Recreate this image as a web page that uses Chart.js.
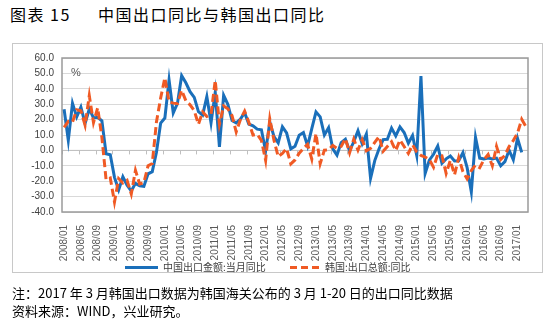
<!DOCTYPE html>
<html lang="zh">
<head>
<meta charset="UTF-8">
<title>中国出口同比与韩国出口同比</title>
<script src="https://cdn.jsdelivr.net/npm/chart.js@4"></script>
<style>
  html, body {
    margin: 0;
    padding: 0;
    width: 554px;
    height: 328px;
    background: #fff;
    overflow: hidden;
    font-family: "Noto Sans CJK SC", "Liberation Sans", sans-serif;
    color: #000;
  }
  .title {
    position: absolute;
    top: 3px;
    font-size: 16px;
    line-height: 22px;
    white-space: pre;
    letter-spacing: 1.5px;
  }
  .box {
    position: absolute;
    left: 12px;
    top: 43px;
    width: 529px;
    height: 228px;
    border: 1px solid #c8c8c8;
  }
  .chart-wrap {
    position: absolute;
    left: 0;
    top: 0;
    width: 529px;
    height: 228px;
  }
  .pct {
    position: absolute;
    left: 58px;
    top: 22px;
    font: 11px "Liberation Sans", sans-serif;
    color: #595959;
  }
  .legend {
    position: absolute;
    top: 216px;
    font-size: 10px;
    line-height: 14px;
    color: #404040;
    white-space: nowrap;
  }
  .swatch {
    position: absolute;
    top: 222px;
    height: 3px;
  }
  .note {
    position: absolute;
    left: 12px;
    font-size: 13px;
    line-height: 18px;
    white-space: pre;
  }
</style>
</head>
<body>
<div class="title" style="left:10px;">图表 15</div>
<div class="title" style="left:98px;">中国出口同比与韩国出口同比</div>

<div class="box">
  <div class="chart-wrap"><canvas id="chart"></canvas></div>
  <div class="pct">%</div>
  <div class="swatch" style="left:112px;width:33px;background:#1a6fba;"></div>
  <div class="legend" style="left:150px;">中国出口金额:当月同比</div>
  <div class="swatch" style="left:277px;width:29px;background:repeating-linear-gradient(to right,#f05a24 0 7px,transparent 7px 11px);"></div>
  <div class="legend" style="left:312px;">韩国:出口总额:同比</div>
</div>

<div class="note" style="top:284px;">注：2017 年 3 月韩国出口数据为韩国海关公布的 3 月 1-20 日的出口同比数据</div>
<div class="note" style="top:302px;">资料来源：WIND，兴业研究。</div>

<script>
// months 2008/01 .. 2017/03
const months = [];
for (let y = 2008; y <= 2017; y++) {
  for (let m = 1; m <= 12; m++) {
    if (y === 2017 && m > 3) break;
    months.push(y + '/' + String(m).padStart(2, '0'));
  }
}

// 中国出口金额:当月同比 (%), 2008/01 - 2017/02
const chinaExport = [
  26.7, 6.5, 30.6, 21.8, 28.1, 17.6, 26.9, 21.1, 21.5, 19.2, -2.2, -2.8,
  -17.5, -25.7, -17.1, -22.6, -26.4, -21.4, -23.0, -23.4, -15.2, -13.8, -1.2, 17.7,
  21.0, 45.7, 24.3, 30.5, 48.5, 43.9, 38.1, 34.4, 25.1, 22.9, 34.9, 17.9,
  37.7, 2.3, 35.8, 29.9, 19.4, 17.9, 20.4, 24.5, 17.1, 15.9, 13.8, 13.4,
  -0.5, 18.4, 8.9, 4.9, 15.3, 11.3, 1.0, 2.7, 9.9, 11.6, 2.9, 14.1,
  25.0, 21.8, 10.0, 14.7, 1.0, -3.1, 5.1, 7.2, -0.3, 5.6, 12.7, 4.3,
  10.6, -18.1, -6.6, 0.9, 7.0, 7.2, 14.5, 9.4, 15.3, 11.6, 4.7, 9.7,
  -3.3, 48.3, -15.0, -6.4, -2.5, 2.8, -8.3, -5.5, -3.7, -6.9, -6.8, -1.4,
  -11.2, -27.0, 8.5, -5.0, -5.5, -5.0, -5.5, -5.0, -10.0, -7.3, 0.1, -6.1,
  7.9, -1.3, null
];

// 韩国:出口总额:同比 (%), 2008/01 - 2017/03
const koreaExport = [
  15.0, 18.9, 18.4, 26.4, 25.8, 16.4, 35.6, 18.1, 27.6, 8.5, -19.0, -17.9,
  -33.5, -18.3, -21.2, -19.4, -28.3, -13.0, -21.8, -20.9, -10.0, -8.5, 18.5, 34.0,
  47.1, 31.5, 30.7, 30.4, 39.0, 32.3, 29.6, 25.8, 17.0, 25.0, 22.0, 23.3,
  45.5, 17.0, 28.8, 27.0, 22.6, 12.0, 20.0, 25.5, 18.3, 10.0, 10.4, 6.5,
  -6.5, 20.4, 6.5, -4.0, -2.0, 1.1, -8.8, -6.2, -1.8, 1.2, 3.9, -5.7,
  10.9, -8.6, 0.2, 0.4, 3.2, 1.4, 2.6, 7.7, -1.5, 7.3, 0.2, 7.0,
  -0.2, 1.4, 5.2, 9.0, -0.5, 2.6, 5.6, -0.1, 6.8, 2.5, -1.9, 3.6,
  -1.0, -3.3, -4.3, -6.0, -10.9, -2.7, -3.4, -14.9, -6.5, -15.8, -4.7, -13.8,
  -18.5, -13.1, -9.5, -11.2, -6.0, -2.7, -10.0, 2.6, -5.9, -3.2, 2.5, 6.4,
  11.2, 20.2, 15.5
];

const yTicks = { min: -40, max: 60, step: 10 };

// plot frame + small tick marks on the zero line, every 4 months
const framePlugin = {
  id: 'frame',
  beforeDatasetsDraw(chart) {
    const { ctx, chartArea: a, scales } = chart;
    const x = scales.x, y = scales.y;
    const y0 = y.getPixelForValue(0);
    const half = (x.getPixelForValue(1) - x.getPixelForValue(0)) / 2;
    ctx.save();
    ctx.strokeStyle = '#bfbfbf';
    ctx.lineWidth = 1;
    ctx.beginPath();
    ctx.moveTo(a.left, y0);
    ctx.lineTo(a.right, y0);
    for (let i = 0; i < months.length; i += 4) {
      const px = Math.round(x.getPixelForValue(i) - half) + 0.5;
      ctx.moveTo(px, y0);
      ctx.lineTo(px, y0 + 4);
    }
    ctx.stroke();
    ctx.strokeStyle = '#9a9a9a';
    ctx.lineWidth = 1.5;
    ctx.strokeRect(a.left, a.top, a.right - a.left, a.bottom - a.top);
    ctx.restore();
  }
};

new Chart(document.getElementById('chart'), {
  type: 'line',
  data: {
    labels: months,
    datasets: [
      {
        label: '中国出口金额:当月同比',
        data: chinaExport,
        borderColor: '#1a6fba',
        borderWidth: 3,
        pointRadius: 0,
        tension: 0,
        order: 2
      },
      {
        label: '韩国:出口总额:同比',
        data: koreaExport,
        borderColor: '#f05a24',
        borderWidth: 3,
        borderDash: [8, 4],
        pointRadius: 0,
        tension: 0,
        order: 1
      }
    ]
  },
  options: {
    responsive: true,
    maintainAspectRatio: false,
    animation: false,
    layout: { padding: { top: 11, right: 14, left: 0, bottom: 0 } },
    plugins: {
      legend: { display: false },
      tooltip: { enabled: false }
    },
    scales: {
      x: {
        offset: true,
        grid: { display: false },
        border: { display: false },
        ticks: {
          autoSkip: false,
          minRotation: 90,
          maxRotation: 90,
          padding: 5,
          color: '#595959',
          font: { family: 'Liberation Sans', size: 10 },
          callback: (v, i) => (i % 4 === 0 ? months[i] : null)
        },
        afterFit: s => { s.height = 60; }
      },
      y: {
        min: yTicks.min,
        max: yTicks.max,
        grid: { color: '#d9d9d9', drawTicks: false },
        border: { display: false },
        ticks: {
          stepSize: yTicks.step,
          padding: 8,
          color: '#404040',
          font: { family: 'Liberation Sans', size: 10 },
          callback: v => v.toFixed(1)
        },
        afterFit: s => { s.width = 49; }
      }
    }
  },
  plugins: [framePlugin]
});
</script>
</body>
</html>
